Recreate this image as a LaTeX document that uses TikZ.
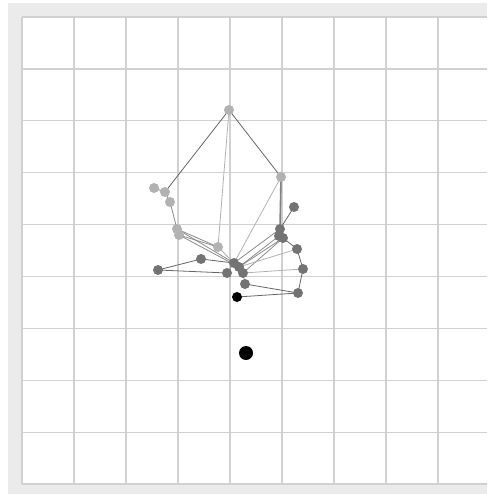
\documentclass[tikz,border=0pt]{standalone}
\begin{document}
\begin{tikzpicture}[x=1pt,y=-1pt,
  lnode/.style={circle,inner sep=0pt,minimum size=10pt},
  dk/.style={draw=black!60,line width=0.8pt},
  lt/.style={draw=black!30,line width=0.8pt},
  md/.style={draw=black!45,line width=0.8pt},
  gridline/.style={draw=black!18,line width=1.4pt}]
\useasboundingbox (0,0) rectangle (487,494);
\fill[white] (0,0) rectangle (487,494);
\fill[black!8] (8,3) rectangle (487,494);
\fill[white] (22,17) rectangle (487,484);
\foreach \i in {0,...,8} {\draw[gridline] ({22+52*\i},17) -- ({22+52*\i},484);}
\foreach \j in {0,...,9} {\draw[gridline] (22,{17+51.9*\j}) -- (487,{17+51.9*\j});}
% nodes
\node[lnode] (A) at (229,110) {};
\node[lnode] (B) at (281,177) {};
\node[lnode] (C1) at (154,188) {};
\node[lnode] (C2) at (165,192) {};
\node[lnode] (C3) at (170,202) {};
\node[lnode] (D1) at (177,229) {};
\node[lnode] (D2) at (179,235) {};
\node[lnode] (E) at (218,247) {};
\node[lnode] (F) at (294,207) {};
\node[lnode] (G1) at (280,229) {};
\node[lnode] (G2) at (283,238) {};
\node[lnode] (G3) at (279,236) {};
\node[lnode] (H) at (297,249) {};
\node[lnode] (I) at (303,269) {};
\node[lnode] (J) at (298,293) {};
\node[lnode] (K1) at (234,263) {};
\node[lnode] (K2) at (239,267) {};
\node[lnode] (L) at (243,273) {};
\node[lnode] (P) at (227,273) {};
\node[lnode] (M) at (245,284) {};
\node[lnode] (N) at (201,259) {};
\node[lnode] (O) at (158,270) {};
\node[lnode] (Q) at (237,297) {};
\node[lnode] (Z) at (246,353) {};
% edges
\draw[dk] (A.center) -- (B.center);
\draw[dk] (A.center) -- (C2.center);
\draw[lt] (A.center) -- (E.center);
\draw[draw=black!50,line width=1.6pt] (B.center) -- (G1.center);
\draw[lt] (B.center) -- (K1.center);
\draw[md] (C1.center) -- (C2.center);
\draw[md] (C2.center) -- (C3.center);
\draw[md] (C3.center) -- (D1.center);
\draw[md] (D1.center) -- (E.center);
\draw[md] (D2.center) -- (E.center);
\draw[md] (D1.center) -- (K1.center);
\draw[md] (D2.center) -- (K2.center);
\draw[lt] (E.center) -- (K1.center);
\draw[dk] (F.center) -- (G1.center);
\draw[md] (G1.center) -- (K1.center);
\draw[md] (G3.center) -- (K2.center);
\draw[md] (G2.center) -- (K2.center);
\draw[md] (G2.center) -- (L.center);
\draw[dk] (G1.center) -- (G2.center);
\draw[dk] (G2.center) -- (H.center);
\draw[dk] (H.center) -- (I.center);
\draw[dk] (I.center) -- (J.center);
\draw[lt] (H.center) -- (K2.center);
\draw[lt] (I.center) -- (L.center);
\draw[dk] (O.center) -- (N.center);
\draw[dk] (N.center) -- (K1.center);
\draw[dk] (O.center) -- (P.center);
\draw[md] (P.center) -- (K1.center);
\draw[md] (K1.center) -- (K2.center);
\draw[md] (K2.center) -- (L.center);
\draw[md] (L.center) -- (M.center);
\draw[dk] (M.center) -- (J.center);
\draw[dk] (Q.center) -- (J.center);
% dots on top
\foreach \n in {A,B,C1,C2,C3,D1,D2,E} {\fill[black!30] (\n) circle (5pt);}
\foreach \n in {F,G1,G2,G3,H,I,J,K1,K2,L,P,M,N,O} {\fill[black!55] (\n) circle (5pt);}
\fill[black] (Q) circle (5pt);
\fill[black] (Z) circle (7pt);
\end{tikzpicture}
\end{document}
